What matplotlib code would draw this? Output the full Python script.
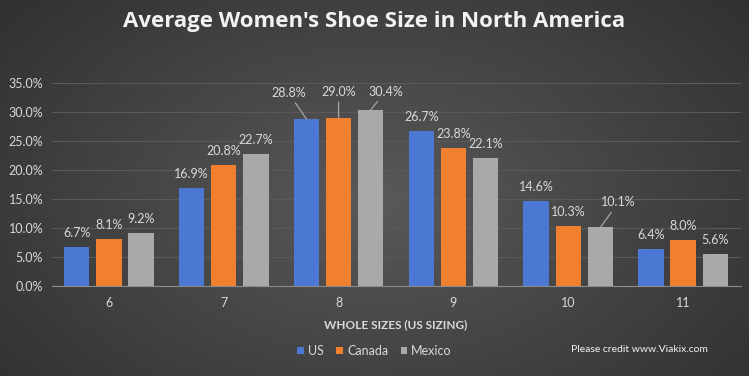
import numpy as np
import matplotlib
matplotlib.use("Agg")
import matplotlib.pyplot as plt

# data
sizes = ["6", "7", "8", "9", "10", "11"]
us = [6.7, 16.9, 28.8, 26.7, 14.6, 6.4]
canada = [8.1, 20.8, 29.0, 23.8, 10.3, 8.0]
mexico = [9.2, 22.7, 30.4, 22.1, 10.1, 5.6]
series_names = ["US", "Canada", "Mexico"]
colors = ["#4a78d2", "#f07f30", "#a9a9a9"]

# labels that were moved away from the bar top (series, category): (dx, dy) px
moved_labels = {
    (0, 2): (-18, 26),
    (1, 2): (0, 26),
    (2, 2): (15, 18),
    (2, 4): (18, 25),
}

text_col = "#d9d9d9"
plt.rcParams["font.family"] = ["Lato", "DejaVu Sans"]

fig = plt.figure(figsize=(7.49, 3.76), dpi=100)

# radial gradient background
bg = fig.add_axes([0, 0, 1, 1])
yy, xx = np.mgrid[0:376, 0:749]
r = np.sqrt(((xx - 375) / 520.0) ** 2 + ((yy - 200) / 330.0) ** 2)
shade = np.clip(0.35 - 0.17 * r, 0.17, 0.35)
bg.imshow(np.dstack([shade] * 3), aspect="auto", extent=[0, 1, 0, 1])
bg.set_axis_off()

ax = fig.add_axes([51.5 / 749, 1 - 286 / 376, 689 / 749, 203 / 376])
ax.set_facecolor("none")

x = np.arange(len(sizes))
width = 0.22
step = 0.28
all_vals = [us, canada, mexico]
for i, (vals, name, col) in enumerate(zip(all_vals, series_names, colors)):
    pos = x + (i - 1) * step
    ax.bar(pos, vals, width, color=col, label=name, zorder=3)
    for j, v in enumerate(vals):
        dx, dy = moved_labels.get((i, j), (0, 14))
        arrow = None
        if (i, j) in moved_labels:
            arrow = dict(arrowstyle="-", color="#a6a6a6", lw=0.9,
                         shrinkA=1, shrinkB=0)
        ax.annotate(f"{v:.1f}%", (pos[j], v), xytext=(dx, dy),
                    textcoords="offset pixels", ha="center", va="center",
                    fontsize=9, color=text_col, arrowprops=arrow, zorder=4)

ax.set_xlim(-0.5, len(sizes) - 0.5)
ax.set_ylim(0, 35)
ax.set_yticks(np.arange(0, 36, 5))
ax.set_yticklabels([f"{t:.1f}%" for t in np.arange(0, 36, 5)])
ax.set_xticks(x)
ax.set_xticklabels(sizes)
ax.grid(axis="y", color="#5a5a5a", lw=0.8, zorder=0)
for s in ["top", "right", "left"]:
    ax.spines[s].set_visible(False)
ax.spines["bottom"].set_color("#8c8c8c")
ax.tick_params(length=0, colors=text_col, labelsize=9)
ax.tick_params(axis="x", pad=8)
ax.tick_params(axis="y", pad=6)

ax.set_xlabel("WHOLE SIZES (US SIZING)", color=text_col, fontsize=8.5,
              fontweight="bold", labelpad=7)

fig.text(0.5, 1 - 22 / 376, "Average Women's Shoe Size in North America",
         ha="center", va="center", fontsize=16, fontweight="bold",
         color="#f2f2f2", family=["Open Sans", "DejaVu Sans"])

leg = fig.legend(loc="center", bbox_to_anchor=(0.5, 1 - 351 / 376), ncol=3,
                 frameon=False, fontsize=9, handlelength=0.55, handleheight=0.55,
                 handletextpad=0.3, columnspacing=1.0)
for t in leg.get_texts():
    t.set_color(text_col)

fig.text(639 / 749, 1 - 350 / 376, "Please credit www.Viakix.com",
         ha="center", va="center", fontsize=7.5, color="#f2f2f2")

fig.savefig("out.png", dpi=100)
